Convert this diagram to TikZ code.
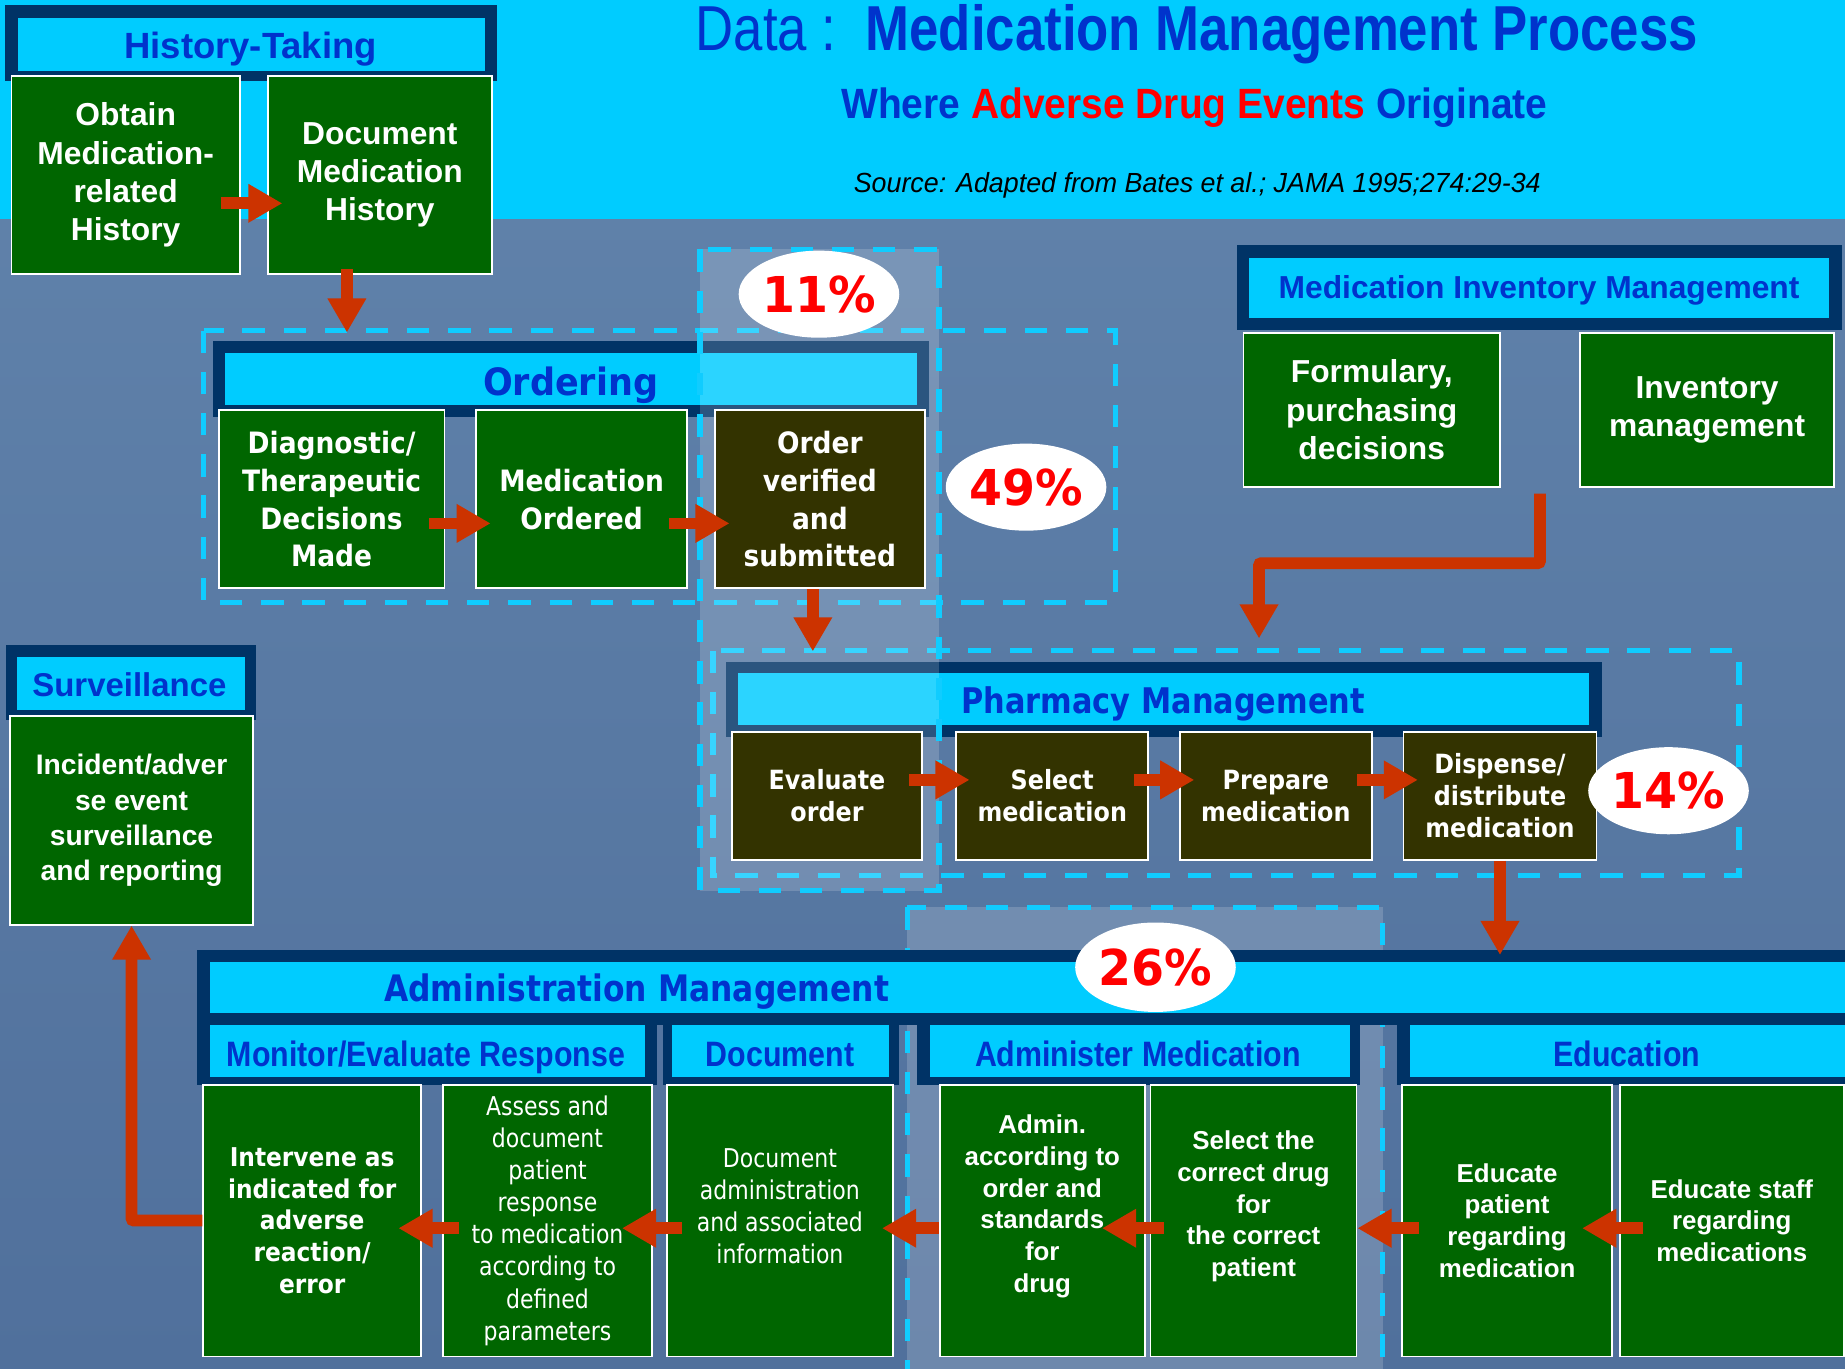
\documentclass[tikz,border=0pt]{standalone}
\usepackage{fontspec}
\setmainfont{Liberation Sans}
\usetikzlibrary{arrows.meta,calc,shapes.geometric}
\newfontfamily\fTitle[FakeStretch=0.83]{Liberation Sans}
\newfontfamily\fSubt[FakeStretch=0.92]{Liberation Sans}
\newfontfamily\fSrc[FakeStretch=0.97]{Liberation Sans}
\newfontfamily\fAr{Liberation Sans}
\newfontfamily\fArn[FakeStretch=0.86]{Liberation Sans}
\newfontfamily\fVo[FakeStretch=0.93]{DejaVu Sans}
\newfontfamily\fVh[FakeStretch=0.86]{DejaVu Sans}
\newfontfamily\fVb[FakeStretch=0.9]{DejaVu Sans}
\newfontfamily\fVr[FakeStretch=0.85]{DejaVu Sans}
\newfontfamily\fPc[FakeStretch=0.96]{DejaVu Sans}
\definecolor{navy}{HTML}{003366}
\definecolor{cyanb}{HTML}{00CCFF}
\definecolor{gboxc}{HTML}{006600}
\definecolor{oboxc}{HTML}{333300}
\definecolor{tblue}{HTML}{0033CC}
\definecolor{ared}{HTML}{CC3300}
\definecolor{pred}{HTML}{FF0000}
\definecolor{dashc}{HTML}{10CCFF}
\definecolor{bgtop}{RGB}{98,132,172}
\definecolor{bgbot}{RGB}{80,112,156}
\tikzset{
  navyfr/.style={fill=navy, draw=none, inner sep=0pt, anchor=north west},
  capr/.style={fill=cyanb, draw=none, inner sep=0pt, anchor=north west},
  hdtxt/.style={anchor=base, inner sep=0pt, text=tblue},
  gb/.style={fill=gboxc, draw=white, line width=1.6pt, inner sep=0pt, anchor=north west, text=white, align=center},
  ob/.style={gb, fill=oboxc},
  btxt/.style={inner sep=0pt, text=white, align=center},
  grp/.style={draw=dashc, line width=4.5pt, dash pattern=on 19pt off 16pt},
  colov/.style={fill=white, fill opacity=0.17, draw=dashc, draw opacity=1, line width=4.5pt, dash pattern=on 19pt off 16pt},
  arr/.style={draw=ared, line width=10pt, -{Triangle[length=29pt,width=31pt]}},
  elb/.style={draw=ared, line width=10pt, rounded corners=2pt, -{Triangle[length=29pt,width=31pt]}},
  pctn/.style={ellipse, fill=white, inner sep=0pt, minimum width=122pt, minimum height=74pt, text=pred, font=\fPc\bfseries\fontsize{42}{46}\selectfont},
  fArB/.style={font=\fAr\bfseries\fontsize{27}{32.5}\selectfont},
  fOrd/.style={font=\fVb\bfseries\fontsize{25}{32}\selectfont},
  fPh/.style={font=\fVb\bfseries\fontsize{22.5}{27}\selectfont},
  fAdB/.style={font=\fAr\bfseries\fontsize{22}{27}\selectfont},
  fAdR/.style={font=\fVr\fontsize{22}{27.3}\selectfont},
  fSubH/.style={font=\fArn\bfseries\fontsize{30}{34}\selectfont}
}
\begin{document}
\begin{tikzpicture}[x=1pt,y=-1pt]
\useasboundingbox (0,0) rectangle (1568,1163);
% background
\shade[top color=bgtop, bottom color=bgbot] (0,0) rectangle (1568,1163);
\fill[cyanb] (0,0) rectangle (1568,186);
% titles
\node[anchor=base west, inner sep=0pt, text=tblue, font=\fTitle\fontsize{54}{60}\selectfont] (title) at (591,43) {Data :\ \ {\bfseries Medication Management Process}};
\node[anchor=base, inner sep=0pt, text=tblue, font=\fSubt\bfseries\fontsize{36}{40}\selectfont] (subtitle) at (1015,100.5) {Where \textcolor{pred}{Adverse Drug Events} Originate};
\node[anchor=base, inner sep=0pt, text=black, font=\fSrc\itshape\fontsize{23.5}{26}\selectfont] (source) at (1017.5,164) {Source: Adapted from Bates et al.; JAMA 1995;274:29-34};
% dashed groups
\draw[grp] (173,281) rectangle (948,512);
\draw[grp] (606,553) rectangle (1478,744);
% History-Taking
\node[navyfr, minimum width=418, minimum height=65] (htf) at (4,4) {};
\node[capr, minimum width=397, minimum height=45] (htc) at (15,15) {};
\node[hdtxt, font=\fAr\bfseries\fontsize{31}{36}\selectfont] (htt) at (213,50) {History-Taking};
\node[gb, fArB, minimum width=194, minimum height=168] (obtain) at (9,64) {Obtain\\Medication-\\related\\History};
\node[gb, fArB, minimum width=190, minimum height=168] (docmh) at (227,64) {Document\\Medication\\History};
% Medication Inventory Management
\node[navyfr, minimum width=514, minimum height=72] (mimf) at (1051,208) {};
\node[capr, minimum width=493, minimum height=51] (mimc) at (1061,219) {};
\node[hdtxt, font=\fAr\bfseries\fontsize{27}{32}\selectfont] (mimt) at (1308,254) {Medication Inventory Management};
\node[gb, fArB, minimum width=218, minimum height=131] (formul) at (1056,282) {Formulary,\\purchasing\\decisions};
\node[gb, fArB, minimum width=216, minimum height=131] (invman) at (1342,282) {Inventory\\management};
% Ordering header
\node[navyfr, minimum width=608, minimum height=64] (orf) at (181,290) {};
\node[capr, minimum width=588, minimum height=44] (orc) at (191,300) {};
\node[hdtxt, font=\fVo\bfseries\fontsize{32}{36}\selectfont] (ort) at (485,336) {Ordering};
% Pharmacy header
\node[navyfr, minimum width=744, minimum height=64] (phf) at (617,562) {};
\node[capr, minimum width=723, minimum height=44] (phc) at (627,572) {};
\node[hdtxt, font=\fVh\bfseries\fontsize{30}{34}\selectfont] (pht) at (988.5,606) {Pharmacy Management};
% 11% column
\draw[colov] (595,212) rectangle (798,757);
% Ordering boxes
\node[gb, fOrd, minimum width=192, minimum height=151] (diag) at (185,348) {Diagnostic/\\Therapeutic\\Decisions\\Made};
\node[gb, fOrd, minimum width=179, minimum height=151] (medord) at (404,348) {Medication\\Ordered};
\node[ob, fOrd, minimum width=178, minimum height=151] (ordver) at (607,348) {Order\\verified\\and\\submitted};
% Pharmacy boxes
\node[ob, fPh, minimum width=162, minimum height=109] (evalo) at (621,621) {Evaluate\\order};
\node[ob, fPh, minimum width=163, minimum height=109] (selm) at (812,621) {Select\\medication};
\node[ob, fPh, minimum width=163, minimum height=109] (prepm) at (1002,621) {Prepare\\medication};
\node[ob, fPh, minimum width=164, minimum height=109] (dispm) at (1192,621) {Dispense/\\distribute\\medication};
% Surveillance
\node[navyfr, minimum width=212, minimum height=64] (svf) at (5,548) {};
\node[capr, minimum width=194, minimum height=45] (svc) at (14,558) {};
\node[hdtxt, font=\fAr\bfseries\fontsize{28}{32}\selectfont] (svt) at (110,592) {Surveillance};
\node[gb, font=\fAr\bfseries\fontsize{24}{30}\selectfont, minimum width=206, minimum height=177] (svbox) at (8,608) {Incident/adver\\se event\\surveillance\\and reporting};
% 26% column
\draw[colov] (771,771) rectangle (1175,1180);
% Administration Management
\node[navyfr, minimum width=1401, minimum height=64] (adf) at (167,807) {};
\node[capr, minimum width=1390, minimum height=44] (adc) at (178,817) {};
\node[hdtxt, font=\fVh\bfseries\fontsize{31}{35}\selectfont] (adt) at (541,851) {Administration Management};
\node[navyfr, minimum width=391, minimum height=61] (mof) at (167,861) {};
\node[navyfr, minimum width=201, minimum height=61] (dof) at (563,861) {};
\node[navyfr, minimum width=377, minimum height=61] (amf) at (779,861) {};
\node[navyfr, minimum width=381, minimum height=61] (edf) at (1187,861) {};
\node[capr, minimum width=370, minimum height=44] (moc) at (178,871) {};
\node[capr, minimum width=184, minimum height=44] (doc) at (571,871) {};
\node[capr, minimum width=357, minimum height=44] (amc) at (790,871) {};
\node[capr, minimum width=370, minimum height=44] (edc) at (1198,871) {};
\node[hdtxt, fSubH] (mot) at (362,906) {Monitor/Evaluate Response};
\node[hdtxt, fSubH] (dot) at (663,906) {Document};
\node[hdtxt, fSubH] (amt) at (967,906) {Administer Medication};
\node[hdtxt, fSubH] (edt) at (1382.5,906) {Education};
% Admin boxes
\node[gb, font=\fVb\bfseries\fontsize{22}{27}\selectfont, minimum width=185, minimum height=231] (interv) at (172,921) {Intervene as\\indicated for\\adverse\\reaction/\\error};
\node[gb, fAdR, minimum width=177, minimum height=231] (assess) at (376,921) {Assess and\\document\\patient\\response\\to medication\\according to\\defined\\parameters};
\node[gb, minimum width=192, minimum height=231] (docadm) at (566,921) {};
\node[btxt, fAdR] (docadmt) at ([yshift=12pt]docadm.center) {Document\\administration\\and associated\\information};
\node[gb, minimum width=174, minimum height=231] (admin) at (798,921) {};
\node[btxt, fAdB] (admint) at ([yshift=12pt]admin.center) {Admin.\\according to\\order and\\standards\\for\\drug};
\node[gb, minimum width=175, minimum height=231] (selcd) at (977,921) {};
\node[btxt, fAdB] (selcdt) at ([yshift=12pt]selcd.center) {Select the\\correct drug\\for\\the correct\\patient};
\node[gb, fAdB, minimum width=178, minimum height=231] (edpat) at (1191,921) {Educate\\patient\\regarding\\medication};
\node[gb, fAdB, minimum width=190, minimum height=231] (edstf) at (1376,921) {Educate staff\\regarding\\medications};
% percentages
\node[pctn] (p11) at (696,250) {11\%};
\node[pctn] (p49) at (872,414) {49\%};
\node[pctn] (p14) at (1418,672) {14\%};
\node[pctn, minimum width=124, minimum height=76] (p26) at (982,822) {26\%};
% arrows
\draw[arr] ($(obtain.east)+(-17,24)$) -- ($(docmh.west)+(13,24)$);
\draw[arr] ($(docmh.south)+(-28,-5)$) -- ($(docmh.south)+(-28,49)$);
\draw[arr] ($(diag.east)+(-14,20.5)$) -- ($(medord.west)+(13,20.5)$);
\draw[arr] ($(medord.east)+(-16,20.5)$) -- ($(ordver.west)+(13,20.5)$);
\draw[arr] ($(ordver.south)+(-6,0)$) -- ($(ordver.south)+(-6,53)$);
\draw[elb] ($(formul.south east)!0.5!(invman.south west)+(0,5)$) |- ($(formul.south west)+(14,64)$) -- ($(formul.south west)+(14,128)$);
\draw[arr] ($(evalo.east)+(-12,-13.5)$) -- ($(selm.west)+(12,-13.5)$);
\draw[arr] ($(selm.east)+(-13,-13.5)$) -- ($(prepm.west)+(13,-13.5)$);
\draw[arr] ($(prepm.east)+(-13,-13.5)$) -- ($(dispm.west)+(13,-13.5)$);
\draw[arr] (dispm.south) -- ($(dispm.south)+(0,80)$);
\draw[arr] ($(edstf.west)+(20,6.5)$) -- ($(edpat.east)+(-26,6.5)$);
\draw[arr] ($(edpat.west)+(15,6.5)$) -- ($(selcd.east)+(0,6.5)$);
\draw[arr] ($(selcd.west)+(12,6.5)$) -- ($(admin.east)+(-37,6.5)$);
\draw[arr] ($(admin.west)+(0,6.5)$) -- ($(docadm.east)+(-10,6.5)$);
\draw[arr] ($(docadm.west)+(14,6.5)$) -- ($(assess.east)+(-26,6.5)$);
\draw[arr] ($(assess.west)+(14,6.5)$) -- ($(interv.east)+(-20,6.5)$);
\draw[elb] (interv.west) -| (svbox.south);
\end{tikzpicture}
\end{document}
